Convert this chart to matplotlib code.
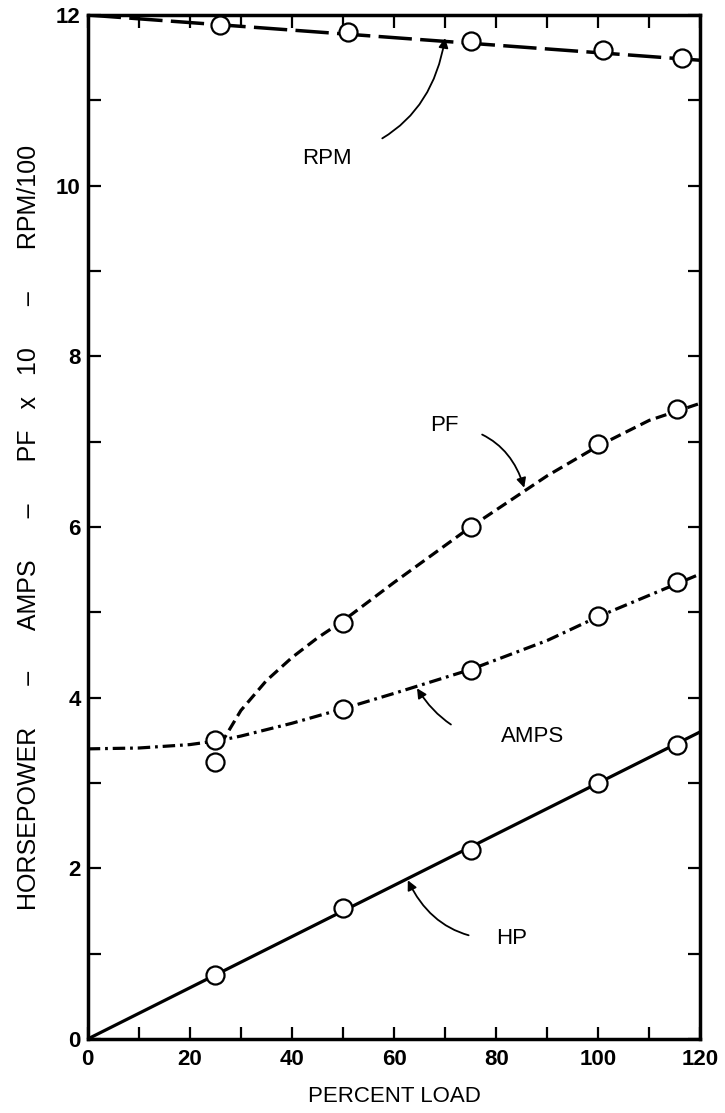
import matplotlib
matplotlib.use("Agg")
import matplotlib.pyplot as plt
from matplotlib.ticker import MultipleLocator

plt.rcParams['font.family'] = ['Liberation Sans', 'DejaVu Sans']
plt.rcParams['lines.scale_dashes'] = False

# measured points (percent load)
load_pts = [25, 50, 75, 100, 115.5]
hp_pts = [0.75, 1.53, 2.22, 3.0, 3.45]
amps_pts = [3.5, 3.87, 4.33, 4.96, 5.35]
pf_pts = [3.25, 4.88, 6.0, 6.97, 7.38]
rpm_load = [26, 51, 75, 101, 116.5]
rpm_pts = [11.88, 11.8, 11.69, 11.59, 11.5]

# faired curves as drawn on the chart
hp_curve_x = [0, 120]
hp_curve_y = [0.0, 3.6]
amps_curve_x = [0, 10, 20, 26, 30, 40, 50, 60, 75, 90, 100, 110, 120]
amps_curve_y = [3.4, 3.41, 3.45, 3.5, 3.55, 3.7, 3.87, 4.05, 4.33, 4.67, 4.95, 5.2, 5.45]
pf_curve_x = [26, 30, 35, 40, 45, 50, 60, 75, 90, 100, 110, 120]
pf_curve_y = [3.45, 3.85, 4.2, 4.47, 4.7, 4.9, 5.35, 6.0, 6.6, 6.95, 7.25, 7.45]
rpm_curve_x = [0, 120]
rpm_curve_y = [12.0, 11.47]

x_ticks = [0, 20, 40, 60, 80, 100, 120]
y_ticks = [0, 2, 4, 6, 8, 10, 12]

fig = plt.figure(figsize=(7.25, 11.13), dpi=100)
ax = fig.add_axes([0.121, 0.0665, 0.845, 0.92])

ax.plot(hp_curve_x, hp_curve_y, color='black', lw=2.3)
ax.plot(amps_curve_x, amps_curve_y, color='black', lw=2.3, dashes=(9, 3.5, 2, 3.5))
ax.plot(pf_curve_x, pf_curve_y, color='black', lw=2.3, dashes=(8, 4))
ax.plot(rpm_curve_x, rpm_curve_y, color='black', lw=2.5, dashes=(24, 6))

mk = dict(ls='none', marker='o', ms=13, mfc='white', mec='black', mew=1.6, zorder=5)
ax.plot(load_pts, hp_pts, **mk)
ax.plot(load_pts, amps_pts, **mk)
ax.plot(load_pts, pf_pts, **mk)
ax.plot(rpm_load, rpm_pts, **mk)

arrow = dict(arrowstyle='-|>', color='black', lw=1.3, mutation_scale=14)
ax.annotate('RPM', xy=(70, 11.73), xytext=(42, 10.32), fontsize=16, va='center',
            arrowprops=dict(arrow, connectionstyle='arc3,rad=0.35',
                            shrinkA=22, shrinkB=0))
ax.annotate('PF', xy=(85.5, 6.46), xytext=(67, 7.19), fontsize=16, va='center',
            arrowprops=dict(arrow, connectionstyle='arc3,rad=-0.35',
                            shrinkA=16, shrinkB=0))
ax.annotate('AMPS', xy=(64.5, 4.11), xytext=(81, 3.54), fontsize=16, va='center',
            arrowprops=dict(arrow, connectionstyle='arc3,rad=-0.35',
                            shrinkA=36, shrinkB=0))
ax.annotate('HP', xy=(62.7, 1.86), xytext=(80, 1.18), fontsize=16, va='center',
            arrowprops=dict(arrow, connectionstyle='arc3,rad=-0.35',
                            shrinkA=18, shrinkB=0))

ax.set_xlim(0, 120)
ax.set_ylim(0, 12)
ax.set_xticks(x_ticks, [str(v) for v in x_ticks], fontsize=16, fontweight='bold')
ax.set_yticks(y_ticks, [str(v) for v in y_ticks], fontsize=16, fontweight='bold')
ax.xaxis.set_minor_locator(MultipleLocator(10))
ax.yaxis.set_minor_locator(MultipleLocator(1))
ax.tick_params(which='both', direction='in', top=True, right=True,
               length=9, width=1.6)
ax.tick_params(axis='x', pad=7)
ax.tick_params(axis='y', pad=5)
for s in ax.spines.values():
    s.set_linewidth(2.5)

gap = ' ' * 6
ax.set_xlabel('PERCENT LOAD', fontsize=16, labelpad=12)
ax.set_ylabel('HORSEPOWER' + gap + '–' + gap + 'AMPS' + gap + '–' + gap + 'PF   x   10'
              + gap + '–' + gap + 'RPM/100', fontsize=18, labelpad=11)

fig.savefig('out.png', dpi=100)
